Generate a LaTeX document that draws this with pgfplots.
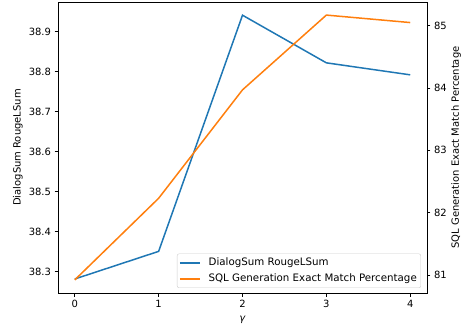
\documentclass[border=0pt]{standalone}
\usepackage{fontspec}
\setmainfont{DejaVu Sans}
\usepackage{pgfplots}
\pgfplotsset{compat=1.18}
\definecolor{tabblue}{HTML}{1F77B4}
\definecolor{taborange}{HTML}{FF7F0E}
\begin{document}
\begin{tikzpicture}
\pgfplotsset{
  common/.style={
    scale only axis, width=369bp, height=291bp,
    xmin=-0.2, xmax=4.2,
    tick align=outside, major tick length=3.5bp,
    every tick/.style={black, line width=0.8bp},
    axis line style={line width=0.8bp},
    tick label style={font=\fontsize{10}{12}\selectfont},
    label style={font=\fontsize{10}{12}\selectfont},
    /pgf/number format/assume math mode=true,
  }
}
\begin{axis}[common,
  ymin=38.247, ymax=38.974,
  xtick={0,1,2,3,4}, ytick={38.3,38.4,38.5,38.6,38.7,38.8,38.9},
  xtick pos=lower, ytick pos=left,
  yticklabel style={/pgf/number format/.cd, fixed, precision=1, fixed zerofill},
  every axis y label/.style={at={(axis description cs:-0.1084,0.5)}, rotate=90, anchor=center},
  every axis x label/.style={at={(axis description cs:0.5,-0.0928)}, anchor=center},
  ylabel={DialogSum RougeLSum},
  xlabel={\textit{γ}},
]
\addplot[tabblue, line width=1.5bp] coordinates {(0,38.282) (1,38.351) (2,38.941) (3,38.822) (4,38.792)};
\end{axis}
\begin{axis}[common,
  ymin=80.71, ymax=85.38,
  axis x line=none, axis y line*=right,
  ytick={81,82,83,84,85}, ytick pos=right,
  every axis y label/.style={at={(axis description cs:1.0786,0.5)}, rotate=90, anchor=center},
  ylabel={SQL Generation Exact Match Percentage},
  legend style={at={(1,0)}, anchor=south east, xshift=-6bp, yshift=5bp,
    draw=black!20, fill=white, fill opacity=0.8, text opacity=1, rounded corners=2bp,
    inner xsep=2bp, inner ysep=1bp, row sep=0pt,
    font=\fontsize{10.3}{12}\selectfont,
    nodes={inner xsep=2bp, inner ysep=3bp, text height=8bp, text depth=2bp},
    /tikz/every odd column/.append style={column sep=6bp}},
  legend cell align=left,
  legend image code/.code={\draw[#1] (0bp,0bp) -- (20bp,0bp);},
]
\addlegendimage{tabblue, line width=1.5bp}
\addlegendentry{DialogSum RougeLSum}
\addplot[taborange, line width=1.5bp] coordinates {(0,80.92) (1,82.23) (2,83.97) (3,85.17) (4,85.05)};
\addlegendentry{SQL Generation Exact Match Percentage}
\end{axis}
\pgfresetboundingbox
\useasboundingbox (-58bp,-35bp) rectangle (406bp,293bp);
\end{tikzpicture}
\end{document}
